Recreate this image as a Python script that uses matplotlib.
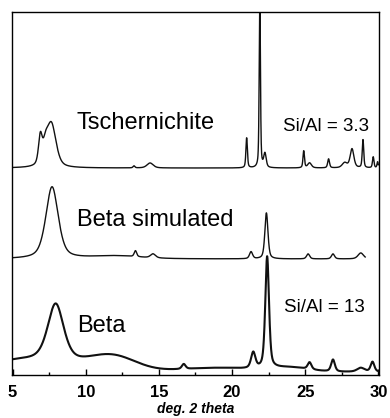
import matplotlib

matplotlib.use("Agg")
import matplotlib.pyplot as plt  # noqa: E402
import numpy as np  # noqa: E402

# Peak lists (2 theta in deg, heights in arbitrary units).
TSCH_OFFSET = 207
TSCH_POS = [6.9, 7.25, 7.65, 13.3, 14.4, 21.0, 21.9, 22.25, 24.9, 25.3, 26.6, 27.7, 28.2, 28.95, 29.65, 29.95]
TSCH_AMP = [28, 14, 44, 2, 5, 30, 170, 14, 17, 5, 9, 5, 19, 28, 11, 6]
TSCH_FWHM = [0.3, 0.4, 0.75, 0.15, 0.5, 0.12, 0.1, 0.2, 0.12, 0.3, 0.15, 0.4, 0.3, 0.12, 0.12, 0.1]

SIM_OFFSET = 116
SIM_END = 29.1
SIM_POS = [7.7, 12.0, 13.4, 14.6, 21.3, 22.35, 25.2, 26.9, 28.8]
SIM_AMP = [72, 3, 6, 4, 7, 46, 5, 5, 6]
SIM_FWHM = [1.0, 4.0, 0.2, 0.4, 0.25, 0.25, 0.25, 0.25, 0.45]

BETA_OFFSET = 3
BETA_POS = [7.95, 16.7, 21.45, 22.4, 25.3, 26.9, 28.8, 29.6]
BETA_AMP = [58, 5, 16, 112, 7, 12, 4, 10]
BETA_FWHM = [1.3, 0.3, 0.35, 0.3, 0.3, 0.3, 0.6, 0.3]
BETA_BG_POS = [6.0, 11.8, 19.0, 24.0]
BETA_BG_AMP = [12, 15, 4, 4]
BETA_BG_WIDTH = [7.0, 3.8, 6.0, 3.0]

LABELS = ["Tschernichite", "Beta simulated", "Beta"]
RATIOS = ["Si/Al = 3.3", "Si/Al = 13"]
XTICKS = [5, 10, 15, 20, 25, 30]


def _pv(x, pos, amp, fwhm, eta=0.5):
    y = np.zeros_like(x)
    for p, a, w in zip(pos, amp, fwhm):
        d = (x - p) / (w / 2)
        y += a * (eta / (1 + d**2) + (1 - eta) * np.exp(-np.log(2) * d**2))
    return y


def _gauss(x, pos, amp, width):
    y = np.zeros_like(x)
    for p, a, w in zip(pos, amp, width):
        y += a * np.exp(-4 * np.log(2) * ((x - p) / w) ** 2)
    return y


x = np.linspace(5, 30, 3000)
tsch = TSCH_OFFSET + _pv(x, TSCH_POS, TSCH_AMP, TSCH_FWHM)
xs = x[x <= SIM_END]
sim = SIM_OFFSET + _pv(xs, SIM_POS, SIM_AMP, SIM_FWHM)
beta = BETA_OFFSET + _pv(x, BETA_POS, BETA_AMP, BETA_FWHM) + _gauss(x, BETA_BG_POS, BETA_BG_AMP, BETA_BG_WIDTH)

plt.rcParams["font.family"] = ["Liberation Sans", "DejaVu Sans"]
fig = plt.figure(figsize=(3.9, 4.18), dpi=100)
ax = fig.add_axes([0.031, 0.103, 0.941, 0.868])
ax.plot(x, tsch, color="#111111", lw=1.0)
ax.plot(xs, sim, color="#111111", lw=1.0)
ax.plot(x, beta, color="#111111", lw=1.5)
ax.set_xlim(4.97, 30.05)
ax.set_ylim(0, 363)

ax.text(9.4, 246, LABELS[0], fontsize=17, va="baseline")
ax.text(9.4, 149, LABELS[1], fontsize=17, va="baseline")
ax.text(9.4, 43, LABELS[2], fontsize=17, va="baseline")
ax.text(23.5, 244, RATIOS[0], fontsize=13.5, va="baseline")
ax.text(23.55, 63, RATIOS[1], fontsize=13.5, va="baseline")

ax.set_yticks([])
ax.set_xticks(XTICKS)
ax.set_xticks(np.arange(7.5, 30, 5), minor=True)
ax.tick_params(axis="x", which="major", direction="in", length=4, width=1, pad=7, labelsize=12)
ax.tick_params(axis="x", which="minor", direction="in", length=2, width=1)
for lbl in ax.get_xticklabels():
    lbl.set_fontweight("bold")
ax.set_xlabel("deg. 2 theta", fontsize=10, style="italic", fontweight="bold", labelpad=2)
for s in ax.spines.values():
    s.set_linewidth(1.0)

fig.savefig("out.png", dpi=100)
